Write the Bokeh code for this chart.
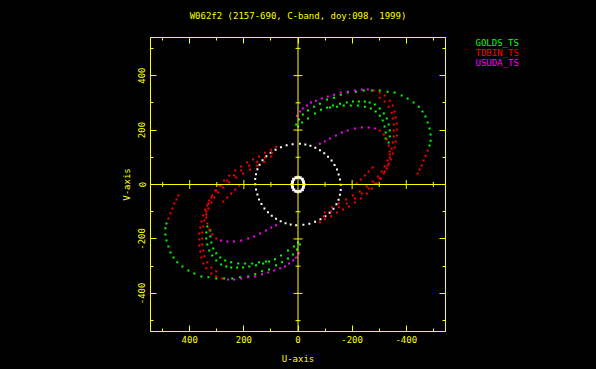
from bokeh.plotting import figure
from bokeh.layouts import row
from bokeh.models import Range1d, LinearAxis, Span, FixedTicker
from bokeh.core.properties import value
from bokeh.embed import file_html
from bokeh.resources import INLINE

# ---------------- data (u, v in the plot's units) ----------------
title_text = "W062f2 (2157-690, C-band, doy:098, 1999)"
legend_names = ["GOLDS_TS", "TDBIN_TS", "USUDA_TS"]
legend_colors = ["#00ff00", "#ff0000", "#ff00ff"]

major_ticks = [-400, -200, 0, 200, 400]
minor_ticks = [-500, -300, -100, 100, 300, 500]
tick_labels = {-400: "-400", -200: "-200", 0: "0", 200: "200", 400: "400"}

# GOLDS_TS (green) tracks and their conjugates
g1_u = [7, -4, -18, -37, -59, -81, -107, -133, -158, -184, -214, -243, -273, -302, -331, -357, -383, -405, -427, -446, -460, -471, -479, -486, -490, -490, -486]
g1_v = [220, 239, 257, 272, 286, 297, 312, 319, 330, 338, 341, 345, 345, 345, 341, 338, 327, 316, 301, 286, 268, 250, 228, 206, 184, 161, 143]
g1c_u = [-7, 4, 18, 37, 59, 81, 107, 133, 158, 184, 214, 243, 273, 302, 331, 357, 383, 405, 427, 446, 460, 471, 479, 486, 490, 490, 486]
g1c_v = [-220, -239, -257, -272, -286, -297, -312, -319, -330, -338, -341, -345, -345, -345, -341, -338, -327, -316, -301, -286, -268, -250, -228, -206, -184, -161, -143]
g2_u = [0, -15, -37, -63, -85, -107, -129, -155, -180, -203, -225, -247, -265, -284, -302, -317, -328, -335, -339, -339, -335]
g2_v = [213, 228, 242, 261, 275, 283, 290, 297, 301, 305, 305, 305, 301, 294, 279, 261, 242, 220, 198, 176, 154]
g2c_u = [0, 15, 37, 63, 85, 107, 129, 155, 180, 203, 225, 247, 265, 284, 302, 317, 328, 335, 339, 339, 335]
g2c_v = [-213, -228, -242, -261, -275, -283, -290, -297, -301, -305, -305, -305, -301, -294, -279, -261, -242, -220, -198, -176, -154]
g3_u = [-118, -144, -169, -195, -221, -247, -269, -287, -302, -313, -320, -324, -324]
g3_v = [283, 286, 290, 290, 290, 286, 279, 268, 253, 235, 213, 191, 169]
g3c_u = [118, 144, 169, 195, 221, 247, 269, 287, 302, 313, 320, 324, 324]
g3c_v = [-283, -286, -290, -290, -290, -286, -279, -268, -253, -235, -213, -191, -169]

# TDBIN_TS (red) tracks and their conjugates
r1_u = [-280, -302, -320, -339, -350, -357, -361, -365, -365, -365, -361, -357, -350, -343, -331, -320, -306, -291, -273, -254, -232, -210, -188, -166, -144, -122, -99, -81]
r1_v = [345, 338, 327, 308, 290, 268, 246, 224, 202, 180, 158, 136, 114, 92, 70, 48, 22, 4, -15, -33, -51, -66, -81, -92, -103, -117, -128, -139]
r1c_u = [280, 302, 320, 339, 350, 357, 361, 365, 365, 365, 361, 357, 350, 343, 331, 320, 306, 291, 273, 254, 232, 210, 188, 166, 144, 122, 99, 81]
r1c_v = [-345, -338, -327, -308, -290, -268, -246, -224, -202, -180, -158, -136, -114, -92, -70, -48, -22, -4, 15, 33, 51, 66, 81, 92, 103, 117, 128, 139]
r2_u = [-302, -317, -328, -335, -339, -339, -335, -328, -317, -302, -284, -261, -236, -210, -180, -151, -122, -96]
r2_v = [198, 184, 165, 143, 121, 99, 77, 59, 40, 22, 4, -15, -33, -51, -70, -84, -99, -117]
r2c_u = [302, 317, 328, 335, 339, 339, 335, 328, 317, 302, 284, 261, 236, 210, 180, 151, 122, 96]
r2c_v = [-198, -184, -165, -143, -121, -99, -77, -59, -40, -22, -4, 15, 33, 51, 70, 84, 99, 117]
r3_u = [-302, -320, -335, -346, -350, -354, -354, -354, -350, -346, -339, -331, -320, -309, -295, -276, -254, -228, -203, -177, -151, -125, -99]
r3_v = [319, 305, 286, 264, 242, 220, 198, 176, 154, 132, 110, 88, 66, 48, 29, 11, -7, -26, -40, -55, -70, -84, -103]
r3c_u = [302, 320, 335, 346, 350, 354, 354, 354, 350, 346, 339, 331, 320, 309, 295, 276, 254, 228, 203, 177, 151, 125, 99]
r3c_v = [-319, -305, -286, -264, -242, -220, -198, -176, -154, -132, -110, -88, -66, -48, -29, -11, 7, 26, 40, 55, 70, 84, 103]
r4_u = [-217, -232, -247, -261, -276]
r4_v = [4, 18, 33, 48, 62]
r4c_u = [217, 232, 247, 261, 276]
r4c_v = [-4, -18, -33, -48, -62]
r5_u = [-479, -471, -464, -457, -449, -442]
r5_v = [125, 106, 88, 70, 55, 40]
r5c_u = [479, 471, 464, 457, 449, 442]
r5c_v = [-125, -106, -88, -70, -55, -40]

# USUDA_TS (magenta) tracks and their conjugates
m1_u = [4, -7, -18, -33, -48, -66, -88, -110, -133, -158, -184, -210, -236, -258]
m1_v = [253, 268, 279, 290, 301, 308, 316, 323, 330, 338, 341, 345, 349, 349]
m1c_u = [-4, 7, 18, 33, 48, 66, 88, 110, 133, 158, 184, 210, 236, 258]
m1c_v = [-253, -268, -279, -290, -301, -308, -316, -323, -330, -338, -341, -345, -349, -349]
m2_u = [-81, -99, -118, -140, -162, -184, -210, -236, -261, -284]
m2_v = [150, 158, 169, 180, 191, 198, 206, 209, 209, 206]
m2c_u = [81, 99, 118, 140, 162, 184, 210, 236, 261, 284]
m2c_v = [-150, -158, -169, -180, -191, -198, -206, -209, -209, -206]

# white track (closed) and small ring at the origin
w_u = [-7, -27, -46, -64, -81, -97, -111, -124, -135, -144, -150, -155, -158, -158, -155, -150, -142, -131, -117, -101, -83, -63, -42, -20,
       7, 27, 46, 64, 81, 97, 111, 124, 135, 144, 150, 155, 158, 158, 155, 150, 142, 131, 117, 101, 83, 63, 42, 20]
w_v = [150, 147, 142, 135, 126, 115, 102, 88, 72, 55, 37, 18, -1, -20, -38, -56, -73, -89, -104, -117, -128, -137, -144, -148,
       -150, -147, -142, -135, -126, -115, -102, -88, -72, -55, -37, -18, 1, 20, 38, 56, 73, 89, 104, 117, 128, 137, 144, 148]
ring_u = [22, 20, 16, 8, 0, -8, -16, -20, -22, -20, -16, -8, 0, 8, 16, 20]
ring_v = [0, 10, 19, 25, 27, 25, 19, 10, 0, -10, -19, -25, -27, -25, -19, -10]

green_u = g1_u + g1c_u + g2_u + g2c_u + g3_u + g3c_u
green_v = g1_v + g1c_v + g2_v + g2c_v + g3_v + g3c_v
red_u = r1_u + r1c_u + r2_u + r2c_u + r3_u + r3c_u + r4_u + r4c_u + r5_u + r5c_u
red_v = r1_v + r1c_v + r2_v + r2c_v + r3_v + r3c_v + r4_v + r4c_v + r5_v + r5c_v
mag_u = m1_u + m1c_u + m2_u + m2c_u
mag_v = m1_v + m1c_v + m2_v + m2c_v

# ---------------- figure ----------------
YEL = "#ffff00"
FONT = "DejaVu Sans Mono"
FS = "9px"

p = figure(width=460, height=369, output_backend="svg", toolbar_location=None,
           x_range=Range1d(545, -545), y_range=Range1d(-540, 540),
           x_axis_location=None, y_axis_location=None,
           min_border_left=150, min_border_right=15, min_border_top=37, min_border_bottom=38)
p.background_fill_color = "black"
p.border_fill_color = "black"
p.outline_line_color = YEL
p.grid.visible = False


def make_axis(show_labels):
    ax = LinearAxis(ticker=FixedTicker(ticks=major_ticks, minor_ticks=minor_ticks))
    ax.axis_line_color = YEL
    ax.major_tick_line_color = YEL
    ax.minor_tick_line_color = YEL
    ax.major_tick_in = 6
    ax.major_tick_out = 0
    ax.minor_tick_in = 3
    ax.minor_tick_out = 0
    ax.major_label_overrides = tick_labels
    ax.major_label_text_font = FONT
    ax.major_label_text_font_size = FS
    ax.major_label_text_color = YEL if show_labels else None
    ax.axis_label_text_color = YEL
    ax.axis_label_text_font = FONT
    ax.axis_label_text_font_size = FS
    ax.axis_label_text_font_style = "normal"
    return ax


bottom = make_axis(True)
bottom.axis_label = "U-axis"
bottom.major_label_standoff = 4
bottom.axis_label_standoff = 8
p.add_layout(bottom, "below")

left = make_axis(True)
left.axis_label = "V-axis"
left.major_label_orientation = "vertical"
left.major_label_standoff = 5
left.axis_label_standoff = 4
p.add_layout(left, "left")

top = make_axis(False)
top.major_label_standoff = 0
top.axis_label = title_text
top.axis_label_standoff = 17
p.add_layout(top, "above")

right = make_axis(False)
p.add_layout(right, "right")

# crosshair through the origin, with its own ticks
p.add_layout(Span(location=0, dimension="width", line_color=YEL, line_width=1))
p.add_layout(Span(location=0, dimension="height", line_color=YEL, line_width=1))
cross_major = [-400, -200, 200, 400]
p.scatter(cross_major, [0] * len(cross_major), marker="dash", size=9, angle=1.5708, line_color=YEL)
p.scatter(minor_ticks, [0] * len(minor_ticks), marker="dash", size=5, angle=1.5708, line_color=YEL)
p.scatter([0] * len(cross_major), cross_major, marker="dash", size=9, line_color=YEL)
p.scatter([0] * len(minor_ticks), minor_ticks, marker="dash", size=5, line_color=YEL)

# uv tracks
p.scatter(w_u, w_v, marker="square", size=2, fill_color="white", line_color=None)
p.scatter(ring_u, ring_v, marker="square", size=3, fill_color="white", line_color=None)
p.scatter(green_u, green_v, marker="square", size=2, fill_color=legend_colors[0], line_color=None)
p.scatter(red_u, red_v, marker="square", size=2, fill_color=legend_colors[1], line_color=None)
p.scatter(mag_u, mag_v, marker="square", size=2, fill_color=legend_colors[2], line_color=None)

# ---------------- station list to the right of the plot ----------------
# (its frame is aligned with the main frame, which spans page rows 37..331)
leg = figure(width=136, height=369, output_backend="svg", toolbar_location=None,
             x_range=Range1d(0, 136), y_range=Range1d(331, 37),
             x_axis_location=None, y_axis_location=None,
             min_border=0)
leg.background_fill_color = "black"
leg.border_fill_color = "black"
leg.outline_line_color = None
leg.grid.visible = False
leg_x = [15, 15, 15]
leg_y = [42, 52.5, 62.5]
leg.text(x=leg_x, y=leg_y, text=legend_names, text_color=legend_colors,
         text_font=value(FONT), text_font_size=FS,
         text_baseline="middle", text_align="left")

layout = row(p, leg, spacing=0)

html = file_html(layout, INLINE)
html = html.replace("<head>", "<head><style>html,body{background:#000000;}</style>", 1)
open("out.html", "w").write(html)
